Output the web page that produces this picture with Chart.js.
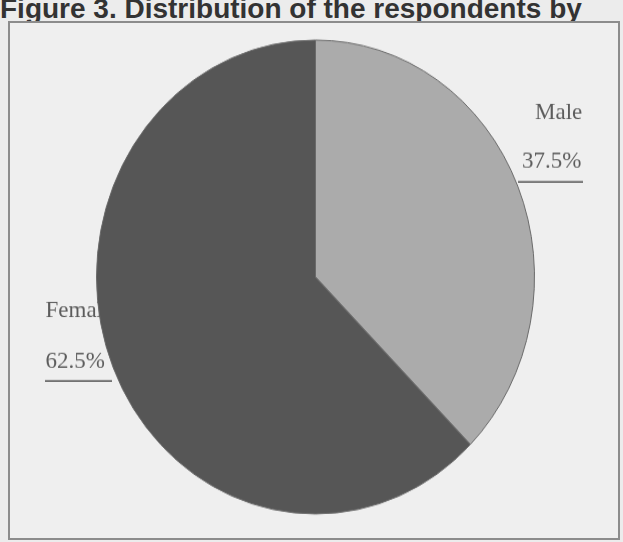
<!DOCTYPE html>
<html>
<head>
<meta charset="utf-8">
<script src="https://cdn.jsdelivr.net/npm/chart.js@4/dist/chart.umd.min.js"></script>
<style>
  html,body{margin:0;padding:0;background:#ececec;width:623px;height:542px;overflow:hidden;}
  #title{position:absolute;left:0px;top:-7px;font-family:"Liberation Sans",Arial,sans-serif;font-weight:bold;font-size:28px;color:#333333;white-space:nowrap;}
  #frame{position:absolute;left:8px;top:21px;width:608px;height:515px;border:2px solid #8c8c8c;background:#efefef;}
  #wrap{position:absolute;left:0;top:0;width:623px;height:501px;transform-origin:0 0;transform:scaleY(1.082);}
</style>
</head>
<body>
<div id="title">Figure 3. Distribution of the respondents by</div>
<div id="frame"></div>
<div id="wrap"><canvas id="c" width="623" height="501"></canvas></div>
<script>
const categories = ["Male", "Female"];
const values = [37.5, 62.5];
const percentLabels = ["37.5%", "62.5%"];
const colors = ["#ababab", "#565656"];
const STRETCH = 1.082;

const labelPlugin = {
  id: 'sideLabels',
  beforeDatasetsDraw(chart) {
    const ctx = chart.ctx;
    const a0 = chart.getDatasetMeta(0).data[0];
    const cx = a0.x, cy = a0.y * STRETCH;
    // label anchors relative to pie centre (display px)
    const spots = [
      {nx: 219.5, ny: -158, px: 206.5, py: -109, ux: 202.5, uy: -95, uw: 65},
      {nx: -270, ny: 40, px: -270, py: 91, ux: -270.5, uy: 104, uw: 67}
    ];
    ctx.save();
    ctx.scale(1, 1 / STRETCH);
    ctx.font = '23px "Liberation Serif", "Times New Roman", serif';
    ctx.fillStyle = '#5c5c5c';
    ctx.textAlign = 'left';
    ctx.textBaseline = 'alphabetic';
    categories.forEach((name, i) => {
      const s = spots[i];
      ctx.fillText(name, cx + s.nx, cy + s.ny);
      ctx.fillText(percentLabels[i], cx + s.px, cy + s.py);
      ctx.strokeStyle = '#6a6a6a';
      ctx.lineWidth = 2;
      ctx.beginPath();
      ctx.moveTo(cx + s.ux, cy + s.uy);
      ctx.lineTo(cx + s.ux + s.uw, cy + s.uy);
      ctx.stroke();
    });
    ctx.restore();
  }
};

new Chart(document.getElementById('c'), {
  type: 'pie',
  data: {
    labels: categories,
    datasets: [{
      data: values,
      backgroundColor: colors,
      borderColor: '#6a6a6a',
      borderWidth: 1
    }]
  },
  options: {
    responsive: false,
    animation: false,
    layout: {padding: {top: 36.5, bottom: 25.5, left: 96, right: 88}},
    plugins: {legend: {display: false}, tooltip: {enabled: false}}
  },
  plugins: [labelPlugin]
});
</script>
</body>
</html>
